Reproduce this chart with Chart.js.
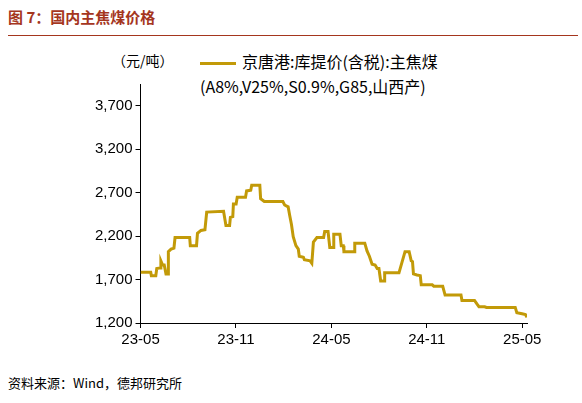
<!DOCTYPE html><html><head><meta charset="utf-8">
<script src="https://cdn.jsdelivr.net/npm/chart.js@4"></script>
<style>
body{margin:0;width:582px;height:403px;background:#fff;font-family:"Noto Sans CJK SC","Liberation Sans",sans-serif;position:relative;overflow:hidden}
#t{position:absolute;left:8px;top:6px;font-size:15px;font-weight:bold;color:#A5361E}
#r{position:absolute;left:8px;top:35px;width:570px;height:1px;background:#A5361E}
#u{position:absolute;left:112px;top:50px;font-size:14px;color:#000}
#s{position:absolute;left:8px;top:373px;font-size:13px;color:#000}
#lg{position:absolute;left:200px;top:49px;font-size:16px;color:#000;line-height:25px}
#lg i{display:inline-block;width:36px;height:3px;background:#C29A08;vertical-align:middle;margin-right:6px}
#w{position:absolute;left:0;top:72px;width:560px;height:280px}
</style></head><body>
<div id="t">图 7：国内主焦煤价格</div><div id="r"></div>
<div id="u">（元/吨）</div>
<div id="lg"><i></i>京唐港:库提价(含税):主焦煤<br>(A8%,V25%,S0.9%,G85,山西产)</div>
<div id="w"><canvas id="c"></canvas></div>
<div id="s">资料来源：Wind，德邦研究所</div>
<script>
const xLabels=["23-05","23-11","24-05","24-11","25-05"];
const months=[0,0.64,0.68,0.96,1.02,1.23,1.28,1.39,1.49,1.6,1.75,1.75,1.92,2.1,2.17,3.09,3.13,3.52,3.58,3.8,4.05,4.16,5.22,5.37,5.6,5.65,5.8,5.84,6.01,6.08,6.6,6.67,6.93,6.99,7.5,7.55,7.78,8.95,9.06,9.28,9.38,9.49,9.6,9.77,9.92,9.98,10.24,10.3,10.66,10.77,10.87,11.09,11.51,11.58,11.79,11.9,12.11,12.15,12.54,12.62,12.75,12.79,13.43,13.47,14.1,14.24,14.39,14.56,14.75,14.88,14.99,15.1,15.31,15.35,16.25,16.42,16.63,16.89,17.02,17.1,17.16,17.38,17.59,17.65,18.34,18.44,19.0,19.15,20.15,20.21,21.0,21.15,21.28,21.64,21.75,23.56,23.66,23.99,24.2,24.3];
const prices=[1785,1785,1745,1745,1826,1834,1915,1867,1867,1765,1765,2021,2050,2062,2184,2184,2090,2090,2232,2265,2273,2476,2485,2322,2322,2415,2423,2570,2570,2647,2647,2720,2728,2785,2785,2631,2598,2598,2558,2537,2436,2334,2192,2090,2050,1968,1956,1928,1915,1887,2131,2184,2184,2253,2253,2070,2070,2220,2220,2090,2090,2021,2021,2119,2119,2029,1968,1875,1867,1826,1826,1684,1684,1777,1777,1887,2021,2021,1915,1907,1765,1753,1745,1639,1639,1623,1623,1521,1521,1460,1460,1420,1387,1387,1379,1379,1318,1306,1298,1265];
const yTicks=[1200,1700,2200,2700,3200,3700];
new Chart(document.getElementById('c'),{type:'line',
data:{datasets:[{data:months.map((m,i)=>({x:m,y:prices[i]})),borderColor:'#C29A08',borderWidth:3,pointRadius:0,tension:0}]},
options:{responsive:true,maintainAspectRatio:false,animation:false,
layout:{padding:{left:92,right:33,top:0}},
plugins:{legend:{display:false},tooltip:{enabled:false}},
scales:{
x:{type:'linear',min:0,max:24.3,grid:{drawOnChartArea:false,color:'#000',tickLength:5},border:{color:'#000'},
 afterBuildTicks:a=>{a.ticks=[0,6,12,18,24].map(v=>({value:v}))},
 ticks:{color:'#000',maxRotation:0,font:{size:15,family:'Liberation Sans'},callback:(v)=>xLabels[v/6]}},
y:{min:1200,max:3950,grid:{drawOnChartArea:false,color:'#000',tickLength:5},border:{color:'#000'},
 afterBuildTicks:a=>{a.ticks=yTicks.map(v=>({value:v}))},
 ticks:{color:'#000',font:{size:15,family:'Liberation Sans'},callback:v=>v.toLocaleString('en-US')}}}}});
</script></body></html>
